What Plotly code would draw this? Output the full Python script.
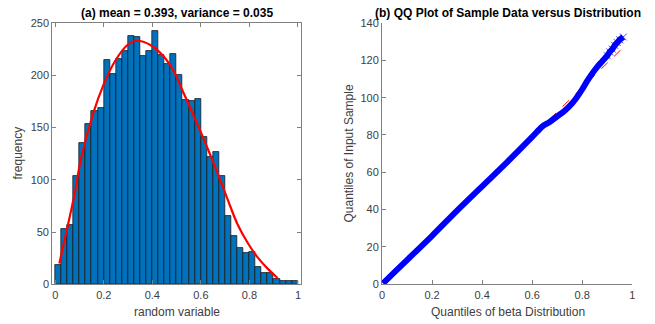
import plotly.graph_objects as go

# ---------------- data ----------------
bin_width = 0.025
bin_left = [i * bin_width for i in range(40)]
counts = [18, 53, 57, 104, 135, 153, 166, 169, 215, 201,
          216, 223, 238, 237, 218, 223, 242, 219, 211, 220,
          200, 176, 175, 177, 141, 122, 127, 104, 65, 46,
          35, 30, 31, 17, 11, 11, 5, 3, 3, 3]

fit_x = [0.017, 0.04, 0.061, 0.082, 0.105, 0.157, 0.199, 0.24, 0.281, 0.309,
         0.337, 0.392, 0.447, 0.488, 0.527, 0.571, 0.599, 0.626, 0.647, 0.681,
         0.709, 0.75, 0.792, 0.833, 0.875, 0.916]
fit_y = [20, 44, 66, 89, 119, 164, 191, 211, 225, 231,
         233, 229, 218, 204, 184, 161, 146, 131, 119, 99,
         82, 58, 40, 26, 15, 6]

qq_x = [0.004, 0.05, 0.1, 0.2, 0.3, 0.4, 0.5, 0.6, 0.64, 0.67, 0.70, 0.73,
        0.76, 0.78, 0.80, 0.82, 0.84, 0.86, 0.88, 0.90, 0.91, 0.92, 0.93,
        0.94, 0.95, 0.964]
qq_y = [0.5, 6.5, 13, 26, 39.5, 52.5, 65.5, 79, 84.5, 87, 90, 93,
        97, 100.5, 104.5, 109, 113, 116.5, 119.5, 122.5, 124.5, 126, 128,
        129.5, 131, 132.5]

ref_x = [0.0, 0.964]
ref_y = [1.0, 126.9]

x_ticks = [0, 0.2, 0.4, 0.6, 0.8, 1]
x_ticklabels = ["0", "0.2", "0.4", "0.6", "0.8", "1"]
hist_yticks = [0, 50, 100, 150, 200, 250]
qq_yticks = [0, 20, 40, 60, 80, 100, 120, 140]

title_a = "(a) mean = 0.393, variance = 0.035"
title_b = "(b) QQ Plot of Sample Data versus Distribution"

# ---------------- figure ----------------
W, H = 655, 324
fig = go.Figure()

fig.add_trace(go.Bar(
    x=[b + bin_width / 2 for b in bin_left], y=counts, width=bin_width,
    marker=dict(color="#0072BD", line=dict(color="#1a1a1a", width=0.8)),
    xaxis="x", yaxis="y", showlegend=False))
fig.add_trace(go.Scatter(
    x=fit_x, y=fit_y, mode="lines", line=dict(color="#ff0000", width=2.2, shape="spline"),
    xaxis="x", yaxis="y", showlegend=False))

fig.add_trace(go.Scatter(
    x=ref_x, y=ref_y, mode="lines", line=dict(color="#ff0000", width=1, dash="dash"),
    xaxis="x2", yaxis="y2", showlegend=False))
marker_sizes = [7 if v >= 0.9 else 0 for v in qq_x]
fig.add_trace(go.Scatter(
    x=qq_x, y=qq_y, mode="lines+markers",
    line=dict(color="#0000ff", width=6, shape="spline", smoothing=0.8),
    marker=dict(symbol="x-thin", size=marker_sizes, line=dict(color="#0000ff", width=1)),
    xaxis="x2", yaxis="y2", showlegend=False))

def px_x(p):
    return p / W

def px_y(p):
    return 1 - p / H

top, bot = 23, 284.3
axcol = "#808080"
tfont = dict(family="Liberation Sans, Arial, sans-serif", size=11, color="#404040")

common = dict(showgrid=False, zeroline=False, showline=True, linecolor=axcol, linewidth=1,
              ticks="inside", ticklen=4, tickcolor=axcol, tickfont=tfont, automargin=False)

fig.update_layout(
    template="none",
    width=W, height=H, margin=dict(l=0, r=0, t=0, b=0, pad=0, autoexpand=False),
    paper_bgcolor="white", plot_bgcolor="white", bargap=0,
    xaxis=dict(domain=[px_x(52.2), px_x(301)], range=[-0.0125, 1.0125], anchor="y",
               tickvals=x_ticks, ticktext=x_ticklabels, mirror="ticks", **common),
    yaxis=dict(domain=[px_y(bot), px_y(top)], range=[0, 250], anchor="x",
               tickvals=hist_yticks, mirror="ticks", **common),
    xaxis2=dict(domain=[px_x(382), px_x(632.3)], range=[0, 1], anchor="y2",
                tickvals=x_ticks, ticktext=x_ticklabels, **common),
    yaxis2=dict(domain=[px_y(bot), px_y(top)], range=[0, 140], anchor="x2",
                tickvals=qq_yticks, **common),
)

lab = dict(family="Liberation Sans, Arial, sans-serif", size=12, color="#404040")
tit = dict(family="Liberation Sans, Arial, sans-serif", size=12, color="#000000")
ann = [
    dict(text="<b>" + title_a + "</b>", x=px_x(176.6), y=px_y(13), font=tit),
    dict(text="<b>" + title_b + "</b>", x=px_x(507.5), y=px_y(13), font=tit),
    dict(text="random variable", x=px_x(176.6), y=px_y(312), font=lab),
    dict(text="Quantiles of beta Distribution", x=px_x(507.5), y=px_y(312), font=lab),
    dict(text="frequency", x=px_x(17), y=px_y(153.5), font=lab, textangle=-90),
    dict(text="Quantiles of Input Sample", x=px_x(348), y=px_y(153.5), font=lab, textangle=-90),
]
for a in ann:
    a.update(xref="paper", yref="paper", showarrow=False, xanchor="center", yanchor="middle")
fig.update_layout(annotations=ann)

fig.write_html("out.html")
